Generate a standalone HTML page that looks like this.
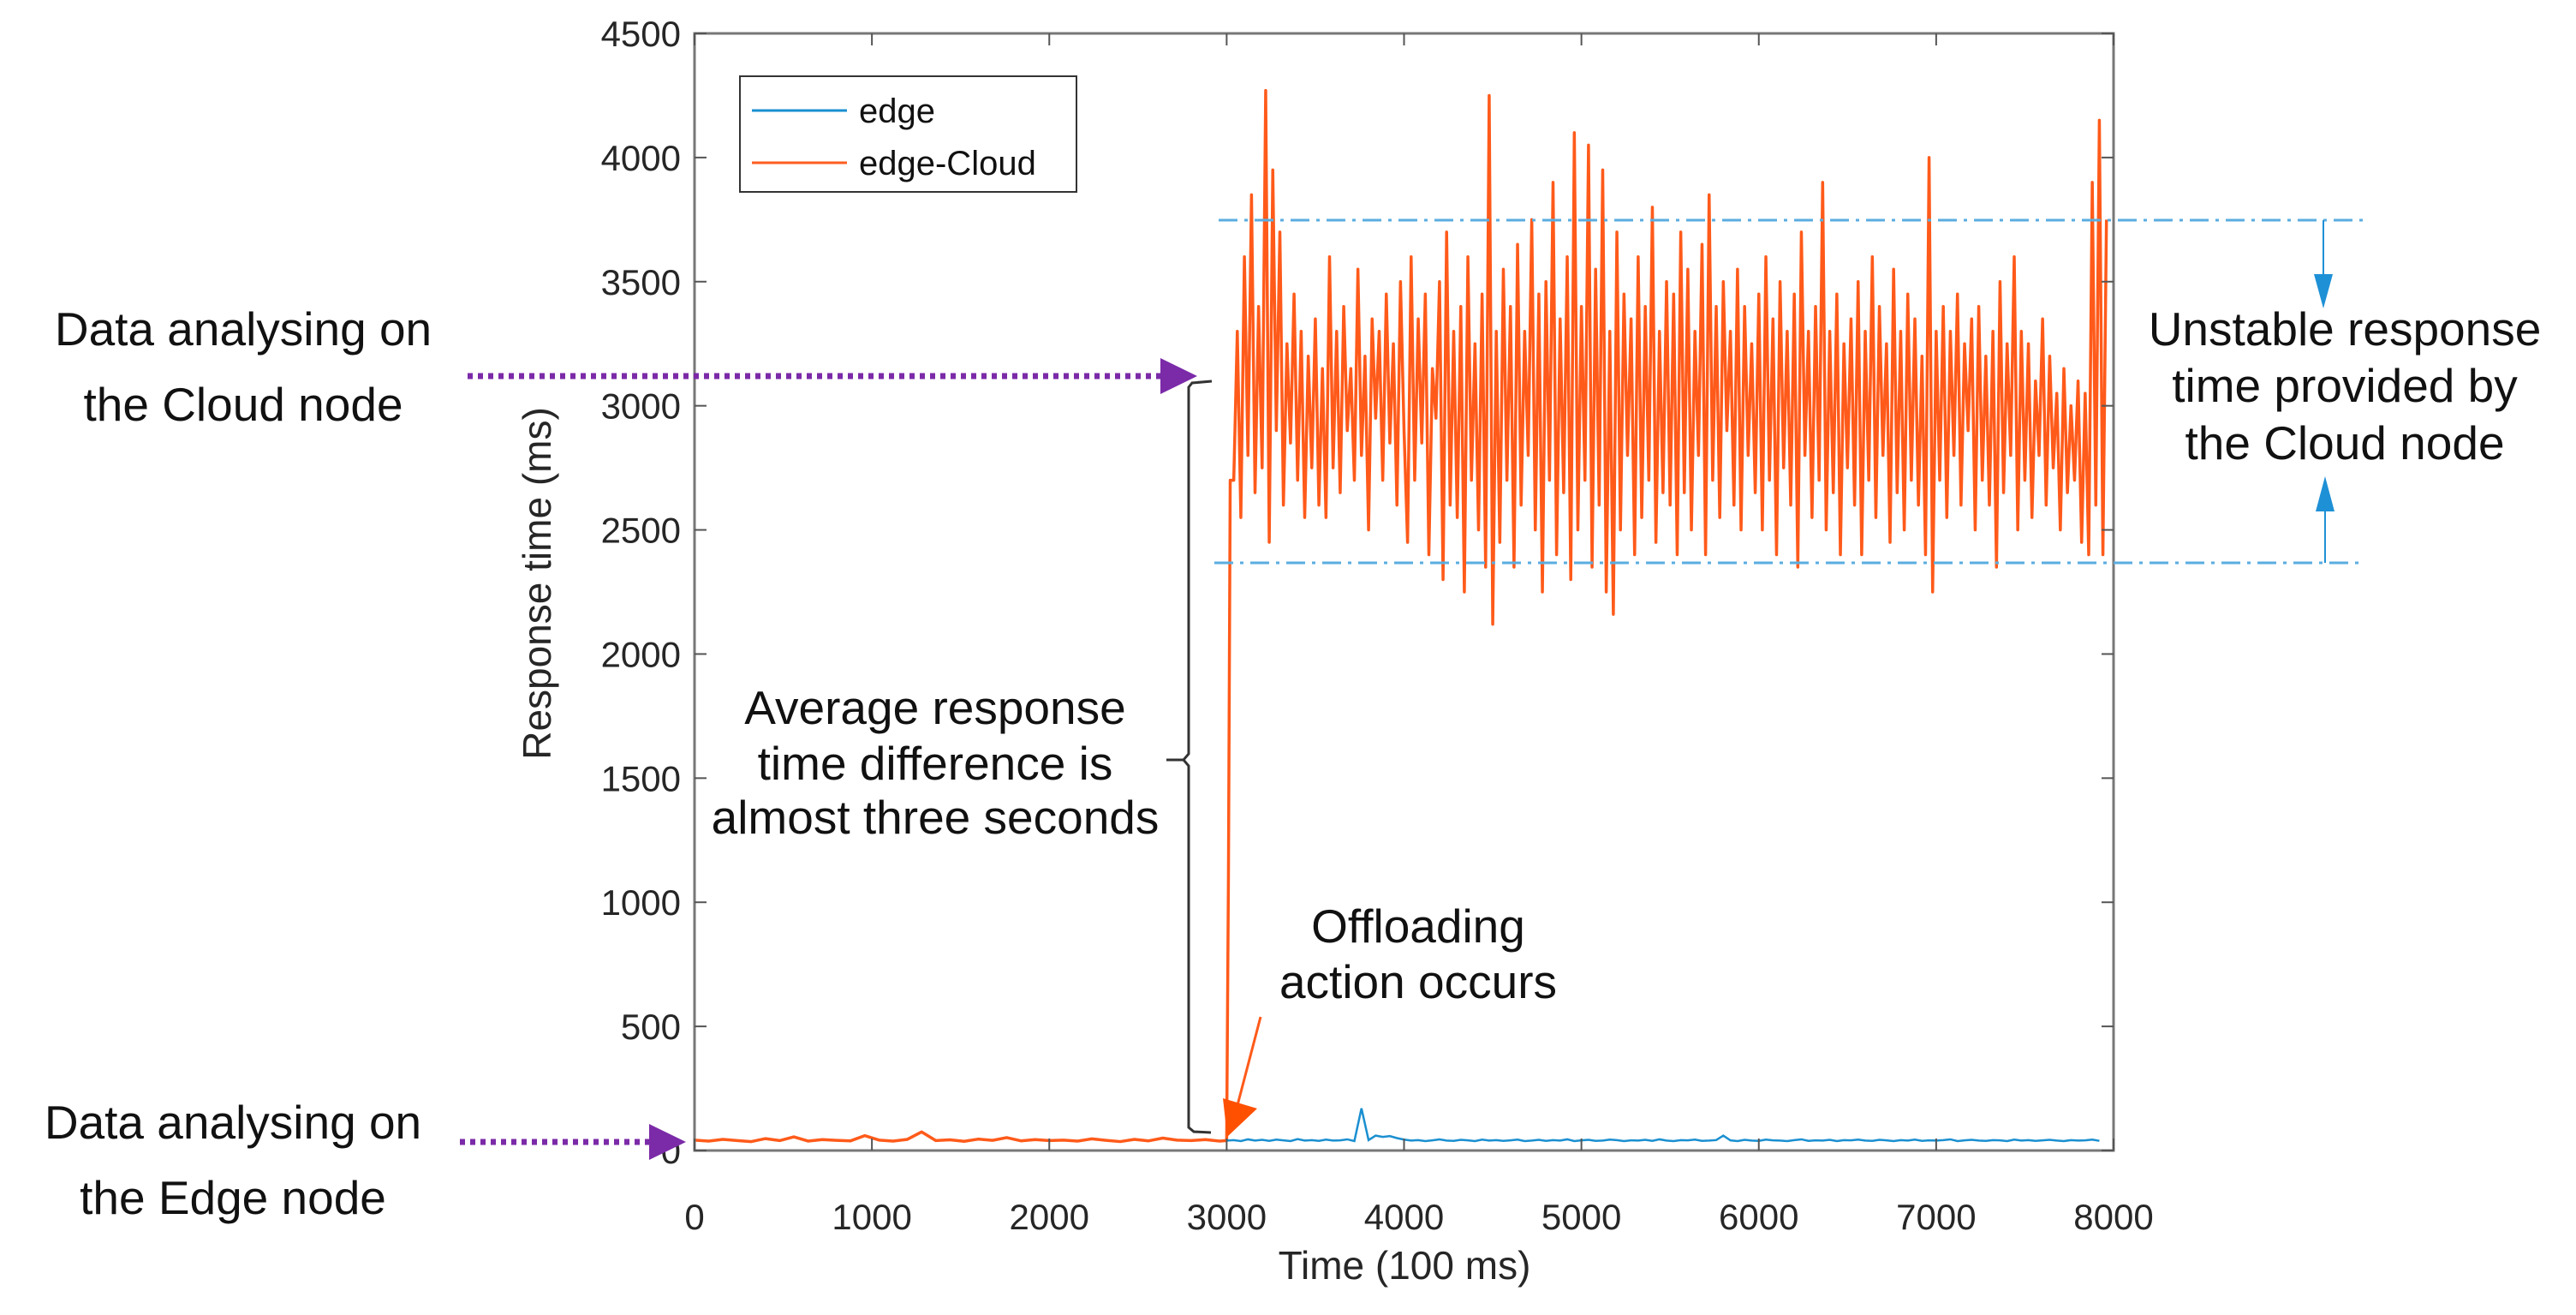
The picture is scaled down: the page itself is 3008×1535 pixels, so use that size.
<!DOCTYPE html>
<html><head><meta charset="utf-8"><style>
html,body{margin:0;padding:0;background:#fff;}
svg{display:block;}
text{font-family:"Liberation Sans",sans-serif;}
</style></head><body>
<svg id="chart" width="3008" height="1535" viewBox="0 0 3008 1535" xmlns="http://www.w3.org/2000/svg">
<g id="plot"></g>
<g font-family="'Liberation Sans',sans-serif" fill="#111" font-size="55">
<text x="284" y="403" text-anchor="middle">Data analysing on</text>
<text x="284" y="491" text-anchor="middle">the Cloud node</text>
<text x="272" y="1329" text-anchor="middle">Data analysing on</text>
<text x="272" y="1417" text-anchor="middle">the Edge node</text>
<text x="1092" y="845" text-anchor="middle">Average response</text>
<text x="1092" y="910" text-anchor="middle">time difference is</text>
<text x="1092" y="973" text-anchor="middle">almost three seconds</text>
<text x="1656" y="1100" text-anchor="middle">Offloading</text>
<text x="1656" y="1165" text-anchor="middle">action occurs</text>
<text x="2738" y="403" text-anchor="middle">Unstable response</text>
<text x="2738" y="469" text-anchor="middle">time provided by</text>
<text x="2738" y="536" text-anchor="middle">the Cloud node</text>
</g>
<line x1="546" y1="439" x2="1360" y2="439" stroke="#7b2aa8" stroke-width="7" stroke-dasharray="6,6"/>
<path d="M1355,418 L1398,439 L1355,460 z" fill="#7b2aa8"/>
<line x1="537" y1="1333" x2="762" y2="1333" stroke="#7b2aa8" stroke-width="7" stroke-dasharray="6,6"/>
<path d="M758,1312 L801,1333 L758,1354 z" fill="#7b2aa8"/>
<path d="M1415,445 L1392,447 L1388,452 L1388,880 L1382,887 L1362,887 M1382,887 L1388,894 L1388,1316 L1394,1321 L1414,1322" fill="none" stroke="#333" stroke-width="3"/>
<line x1="1472" y1="1187" x2="1445" y2="1290" stroke="#ff5a1a" stroke-width="3"/>
<path d="M1428,1282 L1468,1294 L1433,1327 z" fill="#ff5000"/>
<line x1="1423" y1="257" x2="2760" y2="257" stroke="#5aade0" stroke-width="3" stroke-dasharray="22,8,4,8"/>
<line x1="1418" y1="657" x2="2760" y2="657" stroke="#5aade0" stroke-width="3" stroke-dasharray="22,8,4,8"/>
<line x1="2713" y1="257" x2="2713" y2="325" stroke="#1e90d6" stroke-width="2"/>
<path d="M2702,320 L2724,320 L2713,360 z" fill="#1e90d6"/>
<line x1="2715" y1="595" x2="2715" y2="657" stroke="#1e90d6" stroke-width="2"/>
<path d="M2704,597 L2726,597 L2715,556 z" fill="#1e90d6"/>
</svg>
<script>
const xTicks = [0,1000,2000,3000,4000,5000,6000,7000,8000];
const yTicks = [0,500,1000,1500,2000,2500,3000,3500,4000,4500];
const legendLabels = ["edge","edge-Cloud"];
const preOffloadValues = [42,38,45,40,36,48,40,55,38,44,41,39,60,42,38,45,75,40,43,37,46,41,52,39,44,40,42,38,47,41,36,45,39,50,42,40,44,38];
const preOffloadStep = 80;
const jumpTimes = [3000,3010,3020];
const jumpValues = [40,1100,2700];
const cloudStart = 3040;
const cloudStep = 20;
const cloudValues = [
2700,3300,2550,3600,2800,3850,2650,3400,2750,4270,2450,3950,2900,3700,2600,3250,2850,3450,2700,3300,2550,3200,2750,3350,
2600,3150,2550,3600,2750,3300,2650,3400,2900,3150,2700,3550,2800,3200,2500,3350,2950,3300,2700,3450,2850,3250,2600,3500,2900,
2450,3600,2700,3350,2850,3450,2400,3150,2950,3500,2300,3700,2600,3300,2550,3400,2250,3600,2700,3250,2500,3450,2350,4250,2120,
3300,2450,3550,2700,3400,2350,3650,2600,3300,2800,3750,2500,3450,2250,3500,2700,3900,2400,3350,2650,3600,2300,4100,2500,3400,
2700,4050,2350,3550,2600,3950,2250,3300,2160,3700,2500,3450,2800,3350,2400,3600,2550,3400,2700,3800,2450,3300,2650,3500,2600,
3450,2400,3700,2650,3550,2500,3300,2800,3650,2400,3850,2700,3400,2550,3500,2900,3300,2600,3550,2500,3400,2800,3250,2650,3450,
2500,3600,2700,3350,2400,3500,2750,3300,2600,3450,2350,3700,2800,3300,2550,3400,2700,3900,2500,3300,2650,3450,2400,3250,2750,
3350,2600,3500,2400,3300,2700,3600,2550,3400,2800,3250,2450,3550,2650,3300,2500,3450,2700,3350,2600,3200,2400,4000,2250,3300,
2700,3400,2550,3300,2800,3450,2600,3250,2900,3350,2500,3400,2700,3200,2600,3300,2350,3500,2650,3250,2800,3600,2500,3300,2700,
3250,2550,3100,2800,3350,2600,3200,2750,3050,2500,3150,2650,3000,2700,3100,2450,3050,2400,3900,2600,4150,2400,3750];
const edgeStart = 3000;
const edgeStep = 40;
const edgeValues = [40,42,38,45,40,43,39,44,41,38,46,40,42,39,44,40,41,45,38,170,42,60,55,58,50,44,40,42,38,41,45,40,39,43,41,38,44,40,42,39,
41,44,38,40,43,39,42,40,45,38,41,43,39,40,44,42,38,41,40,43,39,45,40,38,42,41,44,39,40,42,60,41,38,43,40,39,44,41,40,38,
42,45,39,41,40,43,38,42,41,44,40,39,43,41,38,42,40,44,39,41,40,42,45,38,41,43,40,39,42,41,38,44,40,42,39,41,43,40,38,42,40,41,44,39];

const NS = "http://www.w3.org/2000/svg";
const L = 811, R = 2468, T = 39, B = 1343;
function xs(v){ return L + v * (R - L) / 8000; }
function ys(v){ return B - v * (B - T) / 4500; }
const plot = document.getElementById('plot');
function mk(tag, attrs){ const e = document.createElementNS(NS, tag); for (const k in attrs) e.setAttribute(k, attrs[k]); plot.appendChild(e); return e; }

let cloudPts = [];
preOffloadValues.forEach((v,i)=>{ cloudPts.push(xs(i*preOffloadStep)+","+ys(v)); });
jumpValues.forEach((v,i)=>{ cloudPts.push(xs(jumpTimes[i])+","+ys(v)); });
cloudValues.forEach((v,i)=>{ cloudPts.push(xs(cloudStart+i*cloudStep)+","+ys(v)); });
const cloudLine = mk('polyline',{points:cloudPts.join(' '),fill:'none',stroke:'#ff5a1a','stroke-width':3.5,'stroke-linejoin':'round'});


let edgePts = edgeValues.map((v,i)=>xs(edgeStart+i*edgeStep)+","+ys(v));
const edgeLine = mk('polyline',{points:edgePts.join(' '),fill:'none',stroke:'#1a8fd0','stroke-width':2.5});



const box = mk('rect',{x:L,y:T,width:R-L,height:B-T,fill:'none',stroke:'#777','stroke-width':3});


xTicks.forEach(t=>{
  const x = xs(t);
  mk('line',{x1:x,y1:B,x2:x,y2:B-14,stroke:'#555','stroke-width':2});
  mk('line',{x1:x,y1:T,x2:x,y2:T+14,stroke:'#555','stroke-width':2});
  const tx = mk('text',{x:x,y:1435,'text-anchor':'middle','font-size':42,fill:'#262626'});
  tx.textContent = t;
  
  
});
yTicks.forEach(t=>{
  const y = ys(t);
  mk('line',{x1:L,y1:y,x2:L+14,y2:y,stroke:'#555','stroke-width':2});
  mk('line',{x1:R,y1:y,x2:R-14,y2:y,stroke:'#555','stroke-width':2});
  const tx = mk('text',{x:L-16,y:y+15,'text-anchor':'end','font-size':42,fill:'#262626'});
  tx.textContent = t;
  
  
});
const xt = mk('text',{x:1640,y:1493,'text-anchor':'middle','font-size':46,fill:'#262626'});
xt.textContent = 'Time (100 ms)';


const yt = mk('text',{x:0,y:0,'text-anchor':'middle','font-size':46,fill:'#262626',transform:'translate(643,681) rotate(-90)'});
yt.textContent = 'Response time (ms)';



const lg = mk('rect',{x:864,y:89,width:393,height:135,fill:'#fff',stroke:'#333','stroke-width':2});


const legendColors = ['#1a8fd0','#ff5d1f'];
legendLabels.forEach((lab,i)=>{
  const y = 129 + i*61;
  const ln = mk('line',{x1:878,y1:y,x2:989,y2:y,stroke:legendColors[i],'stroke-width':3});
  
  
  const tx = mk('text',{x:1003,y:y+14,'font-size':40,fill:'#111'});
  tx.textContent = lab;
  
  
});
</script>
</body></html>
